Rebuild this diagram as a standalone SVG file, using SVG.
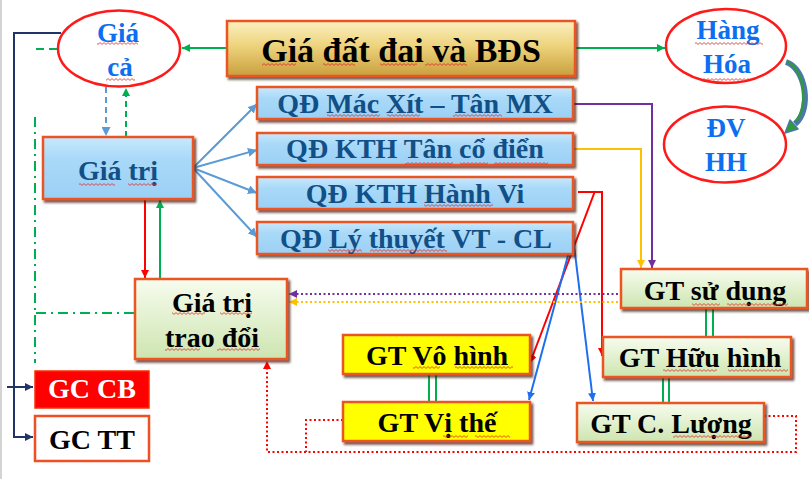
<svg xmlns="http://www.w3.org/2000/svg" width="809" height="479" viewBox="0 0 809 479">
  <style>
    .t { font-family: "Liberation Serif", "DejaVu Serif", serif; font-weight: bold; text-anchor: middle; }
    .ell { fill: #ffffff; stroke: #ff1a1a; stroke-width: 2.5; }
    .ellT { fill: #0d6ef0; font-size: 27px; }
    .box { stroke: #ea5420; stroke-width: 2.5; filter: url(#shadow); }
    .qdT { fill: #114f87; font-size: 28px; }
    .gtT { fill: #000000; font-size: 28px; }
    .ln { fill: none; stroke-width: 2; }
    .sq { fill: url(#squiggle); }
  </style>
  <defs>
    <filter id="shadow" x="-10%" y="-10%" width="125%" height="140%">
      <feDropShadow dx="2" dy="2.5" stdDeviation="1.2" flood-color="#3a1a08" flood-opacity="0.75"/>
    </filter>
    <linearGradient id="gold" x1="0" y1="0" x2="0" y2="1">
      <stop offset="0" stop-color="#faf0c0"/>
      <stop offset="0.45" stop-color="#eed37c"/>
      <stop offset="1" stop-color="#c99f3e"/>
    </linearGradient>
    <linearGradient id="sky" x1="0" y1="0" x2="0" y2="1">
      <stop offset="0" stop-color="#c8e8fc"/>
      <stop offset="0.35" stop-color="#a9d9f8"/>
      <stop offset="1" stop-color="#9bd0f5"/>
    </linearGradient>
    <linearGradient id="mint" x1="0" y1="0" x2="0" y2="1">
      <stop offset="0" stop-color="#f7fcee"/>
      <stop offset="1" stop-color="#cde5b0"/>
    </linearGradient>
    <pattern id="squiggle" width="4" height="3" patternUnits="userSpaceOnUse">
      <path d="M0,0.6 L2,2.4 L4,0.6" fill="none" stroke="#e02a24" stroke-width="0.8"/>
    </pattern>
    <marker id="aGreen" viewBox="0 0 8 8" refX="8" refY="4" markerWidth="8" markerHeight="8" markerUnits="userSpaceOnUse" orient="auto"><path d="M0,0 L8,4 L0,8 z" fill="#00b050"/></marker>
    <marker id="aSky" viewBox="0 0 8 8" refX="8" refY="4" markerWidth="9" markerHeight="9" markerUnits="userSpaceOnUse" orient="auto"><path d="M0,0 L8,4 L0,8 z" fill="#5b9bd5"/></marker>
    <marker id="aPurple" viewBox="0 0 8 8" refX="8" refY="4" markerWidth="8" markerHeight="8" markerUnits="userSpaceOnUse" orient="auto"><path d="M0,0 L8,4 L0,8 z" fill="#7030a0"/></marker>
    <marker id="aYellow" viewBox="0 0 8 8" refX="8" refY="4" markerWidth="8" markerHeight="8" markerUnits="userSpaceOnUse" orient="auto"><path d="M0,0 L8,4 L0,8 z" fill="#ffc000"/></marker>
    <marker id="aRed" viewBox="0 0 8 8" refX="8" refY="4" markerWidth="8" markerHeight="8" markerUnits="userSpaceOnUse" orient="auto"><path d="M0,0 L8,4 L0,8 z" fill="#ff0000"/></marker>
    <marker id="aBlue" viewBox="0 0 8 8" refX="8" refY="4" markerWidth="8" markerHeight="8" markerUnits="userSpaceOnUse" orient="auto"><path d="M0,0 L8,4 L0,8 z" fill="#1e6ff0"/></marker>
    <marker id="aNavy" viewBox="0 0 8 8" refX="8" refY="4" markerWidth="8" markerHeight="8" markerUnits="userSpaceOnUse" orient="auto"><path d="M0,0 L8,4 L0,8 z" fill="#1f3468"/></marker>
  </defs>

  <rect x="0" y="0" width="809" height="479" fill="#ffffff"/>
  <line x1="1" y1="0" x2="1" y2="479" stroke="#d4d4d4" stroke-width="2"/>

  <g id="connectors">
    <!-- top row -->
    <line class="ln" x1="227" y1="48" x2="182" y2="48" stroke="#00b050" marker-end="url(#aGreen)"/>
    <line class="ln" x1="575" y1="48" x2="665" y2="48" stroke="#00b050" marker-end="url(#aGreen)"/>
    <!-- Hàng Hóa to ĐV HH curved arrow -->
    <path d="M786,62 C806,68 812,110 795,124" fill="none" stroke="#4a78a8" stroke-width="6"/>
    <path d="M787,62 C805,69 809,108 795,122" fill="none" stroke="#2f9a3a" stroke-width="2.2"/>
    <path d="M785,133 L790,120 L798,129 z" fill="#2f9a3a" stroke="#4a78a8" stroke-width="1.5" stroke-linejoin="round"/>
    <!-- Giá cả / Giá trị -->
    <line class="ln" x1="106" y1="87" x2="106" y2="136" stroke="#5b9bd5" stroke-dasharray="6 4" marker-end="url(#aSky)"/>
    <line class="ln" x1="126" y1="137" x2="126" y2="88" stroke="#00b050" stroke-dasharray="6 4" marker-end="url(#aGreen)"/>
    <!-- Giá trị to the four schools -->
    <line class="ln" x1="193" y1="168" x2="257" y2="104" stroke="#5b9bd5" marker-end="url(#aSky)"/>
    <line class="ln" x1="193" y1="168" x2="257" y2="150" stroke="#5b9bd5" marker-end="url(#aSky)"/>
    <line class="ln" x1="193" y1="168" x2="257" y2="193" stroke="#5b9bd5" marker-end="url(#aSky)"/>
    <line class="ln" x1="193" y1="168" x2="257" y2="237" stroke="#5b9bd5" marker-end="url(#aSky)"/>
    <!-- schools to kinds of value -->
    <path class="ln" d="M573,104 H652 V268" stroke="#7030a0" marker-end="url(#aPurple)"/>
    <path class="ln" d="M573,149 H641 V268" stroke="#ffc000" marker-end="url(#aYellow)"/>
    <path class="ln" d="M578,192 H602 V356" stroke="#ff0000" marker-end="url(#aRed)"/>
    <line class="ln" x1="595" y1="191" x2="530" y2="363" stroke="#ff0000" marker-end="url(#aRed)"/>
    <line class="ln" x1="573" y1="237" x2="529" y2="400" stroke="#1e6ff0" marker-end="url(#aBlue)"/>
    <line class="ln" x1="573" y1="237" x2="593" y2="401" stroke="#1e6ff0" marker-end="url(#aBlue)"/>
    <!-- Giá trị / Giá trị trao đổi -->
    <line class="ln" x1="145" y1="199" x2="145" y2="278" stroke="#ff0000" marker-end="url(#aRed)"/>
    <line class="ln" x1="160" y1="279" x2="160" y2="200" stroke="#00b050" marker-end="url(#aGreen)"/>
    <!-- use value to exchange value -->
    <path class="ln" d="M627,294 H289" stroke="#7030a0" stroke-width="2.5" stroke-dasharray="2 2.5" marker-end="url(#aPurple)"/>
    <path class="ln" d="M627,302 H289" stroke="#ffc000" stroke-width="2.5" stroke-dasharray="2 2.5" marker-end="url(#aYellow)"/>
    <!-- double links -->
    <g stroke="#00b050" stroke-width="2">
      <line x1="706" y1="308" x2="706" y2="337"/>
      <line x1="713" y1="308" x2="713" y2="337"/>
      <line x1="663" y1="377" x2="663" y2="403"/>
      <line x1="669" y1="377" x2="669" y2="403"/>
      <line x1="429" y1="374" x2="429" y2="402"/>
      <line x1="436" y1="374" x2="436" y2="402"/>
    </g>
    <!-- red dotted feedback -->
    <path class="ln" d="M764,416 H796 V452 H267 V361" stroke="#ff0000" stroke-width="2.5" stroke-dasharray="2 2.5" marker-end="url(#aRed)"/>
    <path class="ln" d="M343,420 H306 V452" stroke="#ff0000" stroke-width="2.5" stroke-dasharray="2 2.5"/>
    <!-- price lines on the left -->
    <path class="ln" d="M61,33 H14 V437 H33" stroke="#1f3468" marker-end="url(#aNavy)"/>
    <line class="ln" x1="7" y1="387" x2="33" y2="387" stroke="#1f3468" marker-end="url(#aNavy)"/>
    <line class="ln" x1="36" y1="49" x2="70" y2="49" stroke="#00b050" stroke-dasharray="8 5" marker-end="url(#aGreen)"/>
    <path class="ln" d="M35,117 V363" stroke="#00b050" stroke-dasharray="10 5 2 5"/>
    <path class="ln" d="M134,313 H35" stroke="#00b050" stroke-dasharray="10 5 2 5"/>
  </g>

  <g id="gia-ca">
    <ellipse class="ell" cx="119" cy="48.5" rx="61" ry="38"/>
    <text class="t ellT" x="118" y="42">Giá</text>
    <text class="t ellT" x="120" y="76">cả</text>
  </g>
  <g id="hang-hoa">
    <ellipse class="ell" cx="726" cy="46" rx="60" ry="37"/>
    <text class="t ellT" x="728" y="39">Hàng</text>
    <text class="t ellT" x="727" y="73">Hóa</text>
  </g>
  <g id="dv-hh">
    <ellipse class="ell" cx="725" cy="144.5" rx="61" ry="38"/>
    <text class="t ellT" x="726" y="137">ĐV</text>
    <text class="t ellT" x="726" y="171">HH</text>
  </g>
  <g id="gia-dat-dai">
    <rect class="box" x="227" y="21" width="348" height="55" fill="url(#gold)"/>
    <text class="t" x="401" y="62" font-size="34" fill="#000000">Giá đất đai và BĐS</text>
  </g>
  <g id="gia-tri">
    <rect class="box" x="43" y="137" width="150" height="62" fill="url(#sky)"/>
    <text class="t qdT" x="118" y="180">Giá trị</text>
  </g>
  <g id="qd-mac-xit">
    <rect class="box" x="257" y="87" width="316" height="32" fill="url(#sky)"/>
    <text class="t qdT" x="415" y="113">QĐ Mác Xít – Tân MX</text>
  </g>
  <g id="qd-tan-co-dien">
    <rect class="box" x="257" y="133" width="316" height="32" fill="url(#sky)"/>
    <text class="t qdT" x="415" y="158">QĐ KTH Tân cổ điển</text>
  </g>
  <g id="qd-hanh-vi">
    <rect class="box" x="257" y="177" width="316" height="32" fill="url(#sky)"/>
    <text class="t qdT" x="415" y="203">QĐ KTH Hành Vi</text>
  </g>
  <g id="qd-vt-cl">
    <rect class="box" x="257" y="222" width="316" height="32" fill="url(#sky)"/>
    <text class="t qdT" x="416" y="248">QĐ Lý thuyết VT - CL</text>
  </g>
  <g id="gia-tri-trao-doi">
    <rect class="box" x="135" y="279" width="152" height="80" fill="url(#mint)"/>
    <text class="t gtT" x="212" y="312">Giá trị</text>
    <text class="t gtT" x="212" y="347">trao đổi</text>
  </g>
  <g id="gt-su-dung">
    <rect class="box" x="621" y="269" width="186" height="39" fill="url(#mint)"/>
    <text class="t gtT" x="715" y="300">GT sử dụng</text>
  </g>
  <g id="gt-huu-hinh">
    <rect class="box" x="603" y="337" width="188" height="40" fill="url(#mint)"/>
    <text class="t gtT" x="700" y="367">GT Hữu hình</text>
  </g>
  <g id="gt-c-luong">
    <rect class="box" x="577" y="403" width="187" height="39" fill="url(#mint)"/>
    <text class="t gtT" x="671" y="433">GT C. Lượng</text>
  </g>
  <g id="gt-vo-hinh">
    <rect class="box" x="343" y="335" width="187" height="39" fill="#ffff00"/>
    <text class="t gtT" x="437" y="365">GT Vô hình</text>
  </g>
  <g id="gt-vi-the">
    <rect class="box" x="343" y="402" width="187" height="39" fill="#ffff00"/>
    <text class="t gtT" x="437" y="432">GT Vị thế</text>
  </g>
  <g id="gc-cb">
    <rect x="35" y="371" width="114" height="37" fill="#ff0000" stroke="#ff2a00" stroke-width="1.5"/>
    <text class="t" x="92" y="398" font-size="28" fill="#ffffff">GC CB</text>
  </g>
  <g id="gc-tt">
    <rect x="35" y="416" width="114" height="45" fill="#ffffff" stroke="#f04e23" stroke-width="2.5"/>
    <text class="t" x="92" y="449" font-size="28" fill="#000000">GC TT</text>
  </g>

  <!-- spell-check underlines -->
  <g id="squiggles">
    <rect class="sq" x="262" y="63" width="34" height="3"/>
    <rect class="sq" x="323" y="63" width="32" height="3"/>
    <rect class="sq" x="380" y="63" width="37" height="3"/>
    <rect class="sq" x="425" y="63" width="42" height="3"/>
    <rect class="sq" x="97" y="42" width="41" height="3"/>
    <rect class="sq" x="106" y="78" width="29" height="3"/>
    <rect class="sq" x="695" y="42" width="68" height="3"/>
    <rect class="sq" x="702" y="78" width="50" height="3"/>
    <rect class="sq" x="79" y="183" width="36" height="3"/>
    <rect class="sq" x="128" y="183" width="29" height="3"/>
    <rect class="sq" x="327" y="114" width="53" height="3"/>
    <rect class="sq" x="387" y="114" width="33" height="3"/>
    <rect class="sq" x="453" y="114" width="49" height="3"/>
    <rect class="sq" x="405" y="162" width="48" height="3"/>
    <rect class="sq" x="460" y="162" width="28" height="3"/>
    <rect class="sq" x="494" y="162" width="54" height="3"/>
    <rect class="sq" x="424" y="204" width="69" height="3"/>
    <rect class="sq" x="328" y="249" width="34" height="3"/>
    <rect class="sq" x="370" y="249" width="77" height="3"/>
    <rect class="sq" x="172" y="312" width="33" height="3"/>
    <rect class="sq" x="220" y="312" width="32" height="3"/>
    <rect class="sq" x="165" y="348" width="35" height="3"/>
    <rect class="sq" x="217" y="348" width="43" height="3"/>
    <rect class="sq" x="413" y="366" width="27" height="3"/>
    <rect class="sq" x="455" y="366" width="58" height="3"/>
    <rect class="sq" x="443" y="435" width="25" height="3"/>
    <rect class="sq" x="475" y="435" width="35" height="3"/>
    <rect class="sq" x="692" y="303" width="28" height="3"/>
    <rect class="sq" x="727" y="303" width="61" height="3"/>
    <rect class="sq" x="663" y="369" width="54" height="3"/>
    <rect class="sq" x="728" y="369" width="60" height="3"/>
    <rect class="sq" x="673" y="435" width="79" height="3"/>
  </g>
</svg>
